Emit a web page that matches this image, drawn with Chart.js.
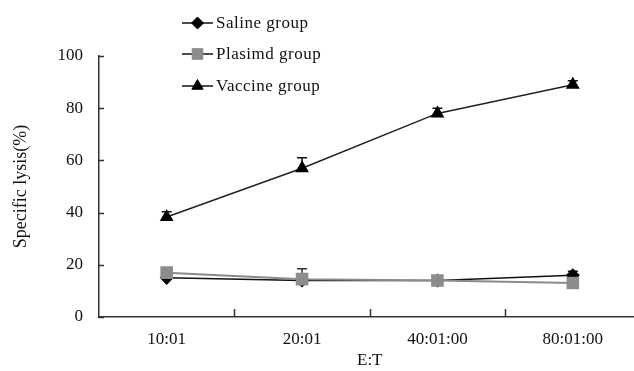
<!DOCTYPE html>
<html>
<head>
<meta charset="utf-8">
<script src="https://cdn.jsdelivr.net/npm/chart.js@4.4.0/dist/chart.umd.min.js"></script>
<style>
  html, body { margin: 0; padding: 0; background: #fff; overflow: hidden; }
  #wrap { position: relative; width: 650px; height: 371px; }
</style>
</head>
<body>
<div id="wrap"><canvas id="c"></canvas></div>
<script>
// ---- data ----
const categories = ['10:01', '20:01', '40:01:00', '80:01:00'];
const salineValues = [15, 14, 14, 16];
const salineErrors = [0, 0, 0, 1.5];
const plasmidValues = [17, 14.5, 14, 13];
const plasmidErrors = [0, 4, 0, 0];
const vaccineValues = [38.3, 57, 78, 89];
const vaccineErrors = [2, 4, 2, 1.5];
const yTicks = [0, 20, 40, 60, 80, 100];
const seriesNames = ['Saline group', 'Plasimd group', 'Vaccine group'];

const FONT = 'Liberation Serif, Times New Roman, serif';
const TEXT = '#111';

const errorBars = {
  id: 'errorBars',
  beforeDatasetsDraw(chart) {
    const ctx = chart.ctx;
    const y = chart.scales.y;
    chart.data.datasets.forEach((ds, di) => {
      const meta = chart.getDatasetMeta(di);
      if (!ds.errors) return;
      ctx.save();
      ctx.strokeStyle = ds.errColor || '#111';
      ctx.lineWidth = 1.5;
      meta.data.forEach((pt, i) => {
        const e = ds.errors[i];
        if (!e) return;
        const v = ds.data[i];
        const yt = y.getPixelForValue(v + e);
        ctx.beginPath();
        ctx.moveTo(pt.x, yt); ctx.lineTo(pt.x, pt.y);
        ctx.moveTo(pt.x - 5, yt); ctx.lineTo(pt.x + 5, yt);
        ctx.stroke();
      });
      ctx.restore();
    });
  }
};

const innerTicks = {
  id: 'innerTicks',
  afterDraw(chart) {
    const ctx = chart.ctx;
    const x = chart.scales.x, y = chart.scales.y;
    ctx.save();
    ctx.strokeStyle = '#333';
    ctx.lineWidth = 1.5;
    ctx.beginPath();
    yTicks.forEach(v => {
      const py = Math.round(y.getPixelForValue(v)) + 0.5;
      ctx.moveTo(x.left, py); ctx.lineTo(x.left + 5, py);
    });
    for (let i = 0; i < categories.length - 1; i++) {
      const px = Math.round((x.getPixelForValue(i) + x.getPixelForValue(i + 1)) / 2) + 0.5;
      ctx.moveTo(px, y.bottom); ctx.lineTo(px, y.bottom - 8);
    }
    ctx.stroke();
    ctx.restore();
  }
};

const customLegend = {
  id: 'customLegend',
  afterDraw(chart) {
    const ctx = chart.ctx;
    const rows = [23, 54, 86];
    chart.data.datasets.forEach((ds, i) => {
      const yy = rows[i];
      ctx.save();
      ctx.strokeStyle = '#111';
      ctx.lineWidth = 1.5;
      ctx.beginPath();
      ctx.moveTo(182, yy); ctx.lineTo(213, yy);
      ctx.stroke();
      ctx.fillStyle = ds.pointBackgroundColor;
      ctx.strokeStyle = ds.pointBorderColor;
      ctx.lineWidth = 1;
      Chart.helpers.drawPoint(ctx, {
        pointStyle: ds.pointStyle, radius: ds.pointRadius, borderWidth: 1, rotation: 0
      }, 197.5, yy);
      ctx.fillStyle = TEXT;
      ctx.font = '17px ' + FONT;
      ctx.letterSpacing = '0.5px';
      ctx.textBaseline = 'middle';
      ctx.textAlign = 'left';
      ctx.fillText(ds.label, 216, yy + 1);
      ctx.restore();
    });
  }
};

new Chart(document.getElementById('c'), {
  type: 'line',
  data: {
    labels: categories,
    datasets: [
      {
        label: seriesNames[0], data: salineValues, errors: salineErrors, errColor: '#111',
        borderColor: '#111', borderWidth: 1.5, pointStyle: 'rectRot', pointRadius: 6,
        pointBackgroundColor: '#000', pointBorderColor: '#000', order: 3, tension: 0
      },
      {
        label: seriesNames[1], data: plasmidValues, errors: plasmidErrors, errColor: '#333',
        borderColor: '#8a8a8a', borderWidth: 2, pointStyle: 'rect', pointRadius: 7.5,
        pointBackgroundColor: '#8c8c8c', pointBorderColor: '#8c8c8c', order: 1, tension: 0
      },
      {
        label: seriesNames[2], data: vaccineValues, errors: vaccineErrors, errColor: '#111',
        borderColor: '#222', borderWidth: 1.5, pointStyle: 'triangle', pointRadius: 6.5,
        pointBackgroundColor: '#000', pointBorderColor: '#000', order: 2, tension: 0
      }
    ]
  },
  options: {
    responsive: true,
    maintainAspectRatio: false,
    animation: false,
    layout: { padding: { top: 56, left: 0, right: 8, bottom: 0 } },
    plugins: { legend: { display: false }, tooltip: { enabled: false } },
    elements: { point: { hoverRadius: 6 } },
    scales: {
      x: {
        offset: true,
        grid: { drawOnChartArea: false, drawTicks: false },
        border: { display: true, color: '#333', width: 1.5 },
        ticks: { color: TEXT, font: { family: FONT, size: 17 }, padding: 12, maxRotation: 0 },
        title: { display: true, text: 'E:T', color: TEXT, font: { family: FONT, size: 17 }, padding: { top: 2, bottom: 0 } },
        afterFit(s) { s.height = 371 - 317; }
      },
      y: {
        min: 0, max: 100,
        grid: { drawOnChartArea: false, drawTicks: false },
        border: { display: true, color: '#333', width: 1.5 },
        ticks: { stepSize: 20, color: TEXT, font: { family: FONT, size: 17 }, padding: 16 },
        title: { display: true, text: 'Specific lysis(%)', color: TEXT, font: { family: FONT, size: 18 }, padding: { top: 10, bottom: 0 } },
        afterFit(s) { s.width = 99; }
      }
    }
  },
  plugins: [errorBars, innerTicks, customLegend]
});
</script>
</body>
</html>
